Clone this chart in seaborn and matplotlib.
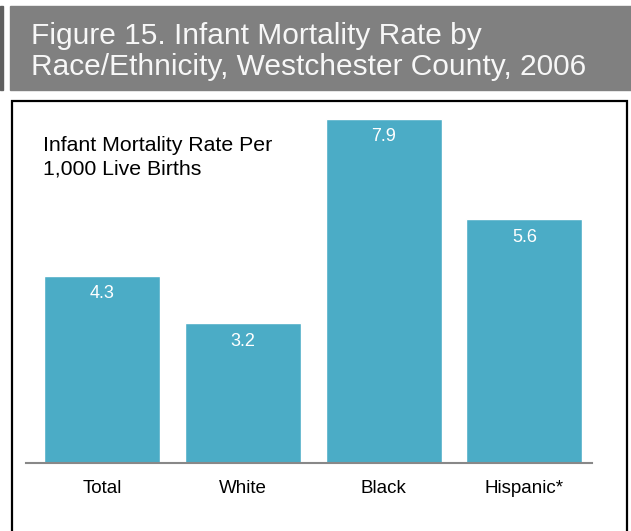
import matplotlib
matplotlib.use("Agg")
import matplotlib.pyplot as plt
import matplotlib.patches as patches
import seaborn as sns
import pandas as pd

categories = ["Total", "White", "Black", "Hispanic*"]
rates = [4.3, 3.2, 7.9, 5.6]
value_labels = ["4.3", "3.2", "7.9", "5.6"]

title = "Figure 15. Infant Mortality Rate by\nRace/Ethnicity, Westchester County, 2006"
ylabel = "Infant Mortality Rate Per\n1,000 Live Births"

sns.set_style("white")
plt.rcParams['font.family'] = ['Liberation Sans', 'DejaVu Sans']

W, H = 631, 531
fig = plt.figure(figsize=(W / 100, H / 100), dpi=100)

# title banner
fig.patches.append(patches.Rectangle((10 / W, 1 - 90 / H), 621 / W, 84 / H,
                                     transform=fig.transFigure, color="#808080", zorder=0))
fig.patches.append(patches.Rectangle((0, 1 - 90 / H), 3 / W, 84 / H,
                                     transform=fig.transFigure, color="#606060", zorder=0))
fig.text(31 / W, 1 - 22 / H, title, color="#f7f7f7", fontsize=21.5, va="top", ha="left",
         linespacing=1.12)

# chart frame
fig.patches.append(patches.Rectangle((12 / W, -0.01), 615 / W, 1 - 101 / H + 0.01,
                                     transform=fig.transFigure, fill=False,
                                     edgecolor="black", linewidth=1.6, zorder=1))

ax = fig.add_axes([26 / W, 68 / H, 566 / W, 353 / H])
df = pd.DataFrame({"category": categories, "rate": rates})
sns.barplot(data=df, x="category", y="rate", color="#4BACC6", saturation=1,
            width=0.825, ax=ax)

ax.set_xlim(-0.54, 3.48)
ax.set_ylim(0, 353 / 43.6)
ax.set_yticks([])
ax.set_xlabel("")
ax.set_ylabel("")
for s in ["top", "right", "left"]:
    ax.spines[s].set_visible(False)
ax.spines["bottom"].set_color("#888888")
ax.spines["bottom"].set_linewidth(1.5)
ax.tick_params(axis="x", length=0, pad=12, labelsize=13.5, labelcolor="black")
ax.patch.set_alpha(0)

for i, (v, lab) in enumerate(zip(rates, value_labels)):
    ax.annotate(lab, (i, v), xytext=(0, -7), textcoords="offset points",
                ha="center", va="top", color="white", fontsize=13)

fig.text(43 / W, 1 - 136 / H, ylabel, fontsize=15.3, va="top", ha="left",
         color="black", linespacing=1.3)

fig.savefig("out.png", dpi=100)
